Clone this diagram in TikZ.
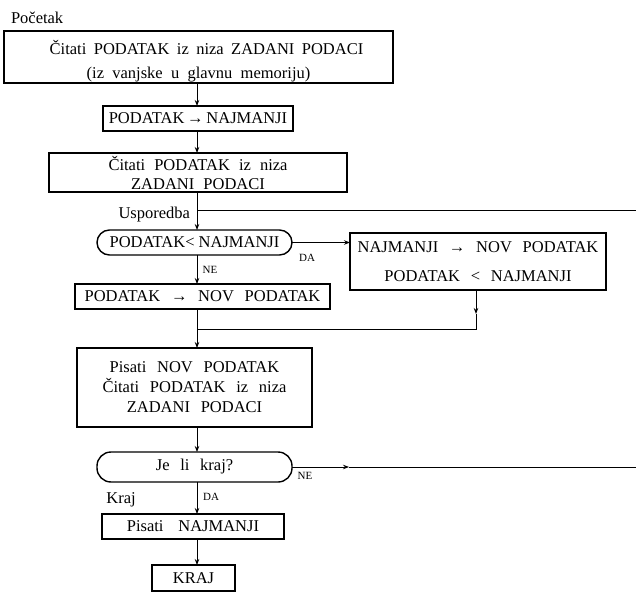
\documentclass[tikz,border=0pt]{standalone}
\usepackage{fontspec}
\setmainfont{Liberation Serif}
\usetikzlibrary{arrows.meta}
\newcommand\fsz[1]{\fontsize{16.5}{#1}\selectfont}
\newcommand\mywide{\spaceskip=0.65em plus 0.05em\relax}
\newcommand\mymid{\spaceskip=0.5em plus 0.05em\relax}
\newcommand\mynarrow{\spaceskip=0.55em plus 0.05em\relax}
\newcommand\mytight{\spaceskip=0.45em plus 0.05em\relax}
\newcommand\myvwide{\spaceskip=0.9em plus 0.05em\relax}
\begin{document}
\begin{tikzpicture}[x=1pt,y=-1pt,
  every node/.style={inner sep=0pt, outer sep=0pt},
  boxs/.style={draw, line width=1.4pt, align=center},
  ovals/.style={draw, line width=1.4pt, align=center},
  ln/.style={line width=0.9pt},
  arr/.style={line width=0.9pt, -{Stealth[length=6pt,width=4.5pt]}},
  lbl/.style={font=\fsz{20}},
  small/.style={font=\fontsize{11}{13}\selectfont}
]
\useasboundingbox (0,0) rectangle (636,593);
\coordinate (sp) at (197,0);

\node[lbl, anchor=base west] (start) at (11,24) {Početak};

\node[boxs, minimum width=389, minimum height=52, font=\fsz{24}] (b1) at (198.5,57)
  {\rule{0pt}{22pt}\hspace*{16pt}{\mytight Čitati PODATAK iz niza ZADANI PODACI}\\{\mymid(iz vanjske u glavnu memoriju)}};
\node[boxs, minimum width=190, minimum height=25, font=\fsz{20}] (b2) at (198,118.5)
  {PODATAK\,→\,NAJMANJI};
\node[boxs, minimum width=298, minimum height=39, font=\fsz{19}\mynarrow] (b3) at (198,172.5)
  {Čitati PODATAK iz niza\\ZADANI PODACI};
\node[lbl, anchor=base east] (usp) at (190,219) {Usporedba};
\node[ovals, rounded corners=12.5pt, minimum width=195, minimum height=25, font=\fsz{20}] (o1) at (194.5,242.5)
  {PODATAK< NAJMANJI};
\node[small] (da1) at (307,258) {DA};
\node[boxs, minimum width=256, minimum height=57, font=\fsz{29}\mywide] (b4) at (478,261.5)
  {NAJMANJI → NOV PODATAK\\PODATAK < NAJMANJI};
\node[small] (ne1) at (210,270) {NE};
\node[boxs, minimum width=255, minimum height=25, font=\fsz{20}\mywide] (b5) at (202.5,296.5)
  {PODATAK → NOV PODATAK};
\node[boxs, minimum width=235, minimum height=79, font=\fsz{20}\mywide] (b6) at (194.5,387.5)
  {Pisati NOV PODATAK\\Čitati PODATAK iz niza\\ZADANI PODACI};
\node[ovals, rounded corners=14pt, minimum width=195, minimum height=30, font=\fsz{20}\mywide] (o2) at (194.5,467)
  {Je li kraj?};
\node[small] (ne2) at (305,476) {NE};
\node[small] (da2) at (211,497) {DA};
\node[lbl] (kraj) at (121,500) {Kraj};
\node[boxs, minimum width=182, minimum height=25, font=\fsz{20}\myvwide] (b7) at (193,526.5)
  {Pisati NAJMANJI};
\node[boxs, minimum width=83, minimum height=26, font=\fsz{20}] (kr) at (193.5,578)
  {KRAJ};

% connectors
\draw[arr] (b1.south -| sp) -- (b2.north -| sp);
\draw[arr] (b2.south -| sp) -- (b3.north -| sp);
\draw[arr] (b3.south -| sp) -- (o1.north -| sp);
\coordinate (r1) at (636,210);
\draw[ln] (r1) -- (r1 -| sp);
\draw[arr] (o1.east) -- (o1.east -| b4.west);
\draw[arr] (o1.south -| sp) -- (b5.north -| sp);
\coordinate (v4) at (476,314);
\coordinate (v4b) at (476,329);
\draw[arr] (b4.south -| v4) -- (v4);
\draw[ln] (v4) -- (v4b) -- (v4b -| sp);
\draw[arr] (b5.south -| sp) -- (b6.north -| sp);
\draw[arr] (b6.south -| sp) -- (o2.north -| sp);
\coordinate (r2) at (636,467);
\coordinate (n2) at (349,467);
\draw[arr] (o2.east) -- (n2);
\draw[ln] (n2) -- (r2);
\draw[arr] (o2.south -| sp) -- (b7.north -| sp);
\draw[arr] (b7.south -| sp) -- (kr.north -| sp);
\end{tikzpicture}
\end{document}
